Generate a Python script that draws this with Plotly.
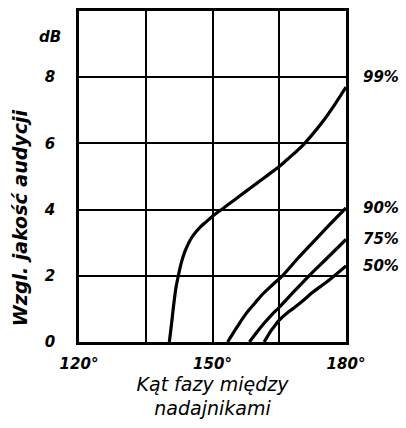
import plotly.graph_objects as go

# Data
x99 = [140.3, 140.8, 141.3, 141.8, 142.4, 143.0, 143.7, 144.5, 145.3, 146.3, 147.3, 148.6, 150.0, 152.5, 155.0, 157.5, 160.0, 162.5, 165.0, 167.5, 170.0, 172.5, 175.0, 177.5, 180.0]
y99 = [0.0, 0.55, 1.15, 1.65, 2.05, 2.4, 2.7, 2.95, 3.15, 3.33, 3.48, 3.63, 3.8, 4.05, 4.3, 4.55, 4.8, 5.05, 5.3, 5.6, 5.9, 6.28, 6.7, 7.18, 7.7]
x90 = [153.4, 155.5, 157.5, 159.5, 161.3, 163.5, 165.7, 169.0, 172.5, 176.0, 180.0]
y90 = [0.0, 0.45, 0.85, 1.17, 1.45, 1.73, 2.0, 2.5, 3.0, 3.5, 4.05]
x75 = [158.3, 160.0, 161.5, 163.3, 165.0, 168.5, 171.7, 175.5, 180.0]
y75 = [0.0, 0.3, 0.55, 0.82, 1.05, 1.55, 2.0, 2.5, 3.1]
x50 = [161.6, 162.4, 163.2, 164.1, 165.0, 166.7, 168.5, 170.5, 172.5, 176.0, 180.0]
y50 = [0.0, 0.18, 0.35, 0.51, 0.66, 0.87, 1.05, 1.27, 1.5, 1.85, 2.3]

series = [("99%", x99, y99), ("90%", x90, y90), ("75%", x75, y75), ("50%", x50, y50)]

xticks = [120, 135, 150, 165, 180]
xticktext = ["120°", "", "150°", "", "180°"]
yticks = [0, 2, 4, 6, 8, 10]
yticktext = ["0", "2", "4", "6", "8", ""]

FONT = "DejaVu Sans"
tfont = dict(family=FONT, size=15, color="black", style="italic", weight="bold")

fig = go.Figure()
for name, xs, ys in series:
    fig.add_trace(go.Scatter(x=xs, y=ys, mode="lines", name=name,
                             line=dict(color="black", width=3.2, shape="spline", smoothing=1.0),
                             showlegend=False, hoverinfo="skip"))

# curve end labels
for name, xs, ys in series:
    yl = ys[-1]
    if name == "99%":
        yl = 8.0
    fig.add_annotation(x=1.055, xref="paper", y=yl, yref="y", text=name, showarrow=False,
                       xanchor="left", yanchor="middle", font=tfont)

fig.add_annotation(x=-0.11, xref="paper", y=9.2, yref="y", text="dB", showarrow=False,
                   xanchor="center", yanchor="middle", font=tfont)

# y-axis title
fig.add_annotation(x=-0.22, xref="paper", y=0.375, yref="paper", text="Wzgl. jakość audycji",
                   textangle=-90, showarrow=False, xanchor="center", yanchor="middle",
                   font=dict(family=FONT, size=19, color="black", style="italic", weight="bold"))

fig.update_xaxes(range=[120, 180], tickvals=xticks, ticktext=xticktext,
                 showgrid=True, gridcolor="black", gridwidth=1.5,
                 showline=True, linecolor="black", linewidth=2.5, mirror=True,
                 zeroline=False, ticks="", ticklabelstandoff=6,
                 tickfont=tfont,
                 title=dict(text="Kąt fazy między<br>nadajnikami", standoff=4,
                            font=dict(family=FONT, size=19, color="black", style="italic")))
fig.update_yaxes(range=[0, 10], tickvals=yticks, ticktext=yticktext,
                 showgrid=True, gridcolor="black", gridwidth=1.5,
                 showline=True, linecolor="black", linewidth=2.5, mirror=True,
                 zeroline=False, ticks="", ticklabelstandoff=18,
                 tickfont=tfont)

fig.update_layout(width=406, height=428, margin=dict(l=79, r=60, t=8, b=86),
                  plot_bgcolor="white", paper_bgcolor="white")

fig.write_html("out.html")
